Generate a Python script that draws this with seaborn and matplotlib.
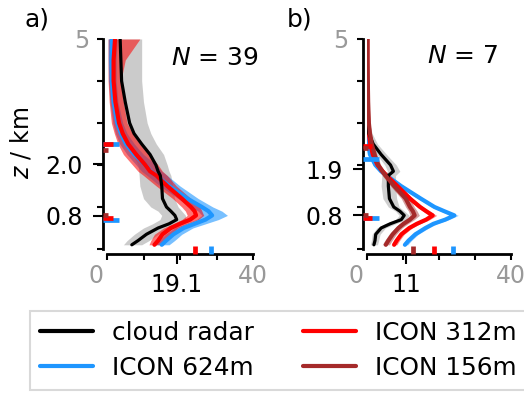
import numpy as np
import pandas as pd
import matplotlib
matplotlib.use("Agg")
import matplotlib.pyplot as plt
import matplotlib.transforms as mtrans
from matplotlib.lines import Line2D
import seaborn as sns

# ---------------- data ----------------
heights = [0.1, 0.2, 0.35, 0.5, 0.6, 0.7, 0.8, 0.9, 1.0, 1.2, 1.5, 1.75, 1.85,
           2.0, 2.25, 2.5, 2.75, 3.0, 3.5, 4.0, 4.5, 5.0]

# panel a (N = 39)
radar_a = [6.8, 8.5, 10.8, 14.0, 17.0, 19.1, 18.6, 17.5, 16.3, 15.2, 15.0, 14.6, 14.0,
           13.4, 11.8, 9.5, 7.4, 6.2, 5.0, 4.0, 3.8, 3.6]
radar_a_lo = [4.5, 5.5, 7.5, 10.0, 12.5, 14.5, 15.0, 14.0, 12.0, 10.0, 9.0, 8.8, 8.7,
              8.5, 7.0, 5.0, 3.5, 2.5, 1.5, 1.0, 0.8, 0.5]
radar_a_hi = [9.5, 11.5, 14.0, 17.5, 20.0, 21.5, 21.5, 20.5, 19.5, 18.5, 18.0, 17.5, 17.0,
              16.5, 15.5, 13.5, 12.0, 11.0, 10.0, 9.5, 9.5, 9.5]
icon312_a = [13.0, 14.0, 15.2, 17.5, 20.0, 22.8, 24.4, 24.0, 23.0, 20.5, 16.5, 13.5, 11.8,
             10.5, 8.0, 5.8, 4.3, 3.3, 2.3, 1.8, 1.8, 2.2]
icon312_a_lo = [11.5, 12.0, 13.0, 15.5, 18.0, 20.5, 22.0, 21.5, 20.5, 18.0, 13.5, 10.0, 8.5,
                7.0, 4.5, 3.0, 2.0, 1.2, 0.6, 0.3, 0.3, 0.3]
icon312_a_hi = [15.0, 16.0, 17.5, 19.5, 22.0, 25.0, 26.5, 26.0, 25.5, 23.0, 19.0, 16.5, 15.2,
                14.0, 11.5, 9.0, 7.0, 5.5, 4.5, 3.8, 5.0, 9.0]
icon624_a = [15.0, 16.2, 18.2, 21.0, 24.0, 27.0, 28.8, 27.8, 26.0, 22.0, 17.0, 13.5, 12.0,
             10.5, 7.5, 5.2, 3.8, 2.8, 1.8, 1.3, 1.2, 1.3]
icon624_a_lo = [13.0, 14.2, 16.0, 18.5, 21.5, 24.5, 26.0, 25.0, 23.0, 19.5, 14.5, 11.0, 9.5,
                8.0, 5.5, 3.5, 2.3, 1.6, 0.8, 0.4, 0.3, 0.3]
icon624_a_hi = [17.0, 18.5, 20.5, 23.5, 27.0, 30.5, 33.0, 31.5, 29.0, 25.0, 20.0, 16.5, 15.0,
                13.5, 10.0, 7.5, 5.5, 4.3, 3.0, 2.5, 2.5, 2.8]

# panel b (N = 7)
radar_b = [2.0, 2.3, 2.5, 4.0, 6.5, 9.6, 10.4, 9.2, 7.5, 6.3, 6.0, 6.0, 7.4,
           6.6, 4.0, 1.8, 0.6, 0.3, 0.2, 0.1, 0.1, 0.1]
radar_b_lo = [1.0, 1.3, 1.5, 2.8, 5.0, 8.0, 9.0, 8.0, 6.0, 4.5, 4.0, 4.2, 5.8,
              5.0, 2.8, 1.0, 0.2, 0.0, 0.0, 0.0, 0.0, 0.0]
radar_b_hi = [3.0, 3.3, 3.7, 5.2, 8.0, 11.0, 11.8, 10.5, 9.0, 8.3, 8.0, 8.0, 9.2,
              8.2, 5.5, 3.0, 1.5, 0.8, 0.5, 0.3, 0.3, 0.3]
icon156_b = [5.3, 6.0, 7.2, 8.8, 10.2, 12.0, 13.3, 12.8, 12.0, 10.8, 7.6, 5.2, 4.3,
             3.2, 2.2, 1.4, 0.9, 0.6, 0.4, 0.3, 0.2, 0.2]
icon156_b_lo = [4.3, 5.0, 6.2, 7.8, 9.0, 10.8, 12.0, 11.6, 10.8, 9.6, 6.6, 4.3, 3.5,
                2.5, 1.6, 0.9, 0.5, 0.3, 0.2, 0.1, 0.1, 0.1]
icon156_b_hi = [6.3, 7.0, 8.2, 9.8, 11.4, 13.2, 14.6, 14.0, 13.2, 12.0, 8.6, 6.1, 5.1,
                3.9, 2.8, 1.9, 1.3, 0.9, 0.6, 0.5, 0.4, 0.4]
icon312_b = [7.6, 8.3, 9.6, 11.8, 13.9, 16.5, 18.3, 16.5, 14.8, 12.0, 8.5, 5.5, 4.4,
             3.0, 1.7, 1.0, 0.6, 0.4, 0.3, 0.2, 0.2, 0.2]
icon312_b_lo = [6.8, 7.5, 8.8, 11.0, 13.0, 15.5, 17.2, 15.6, 14.0, 11.2, 7.7, 4.8, 3.7,
                2.4, 1.2, 0.6, 0.3, 0.2, 0.1, 0.1, 0.1, 0.1]
icon312_b_hi = [8.4, 9.1, 10.4, 12.6, 14.8, 17.5, 19.4, 17.4, 15.6, 12.8, 9.3, 6.2, 5.1,
                3.6, 2.2, 1.4, 0.9, 0.6, 0.5, 0.3, 0.3, 0.3]
icon624_b = [10.6, 11.6, 13.5, 16.3, 18.5, 21.8, 24.3, 21.5, 18.8, 15.0, 9.5, 5.5, 4.0,
             2.4, 0.9, 0.4, 0.2, 0.1, 0.1, 0.1, 0.1, 0.1]
icon624_b_lo = [9.8, 10.8, 12.7, 15.4, 17.6, 20.8, 23.2, 20.5, 17.9, 14.2, 8.7, 4.8, 3.3,
                1.8, 0.5, 0.2, 0.1, 0.0, 0.0, 0.0, 0.0, 0.0]
icon624_b_hi = [11.4, 12.4, 14.3, 17.2, 19.4, 22.8, 25.4, 22.5, 19.7, 15.8, 10.3, 6.2, 4.7,
                3.0, 1.3, 0.6, 0.4, 0.3, 0.2, 0.2, 0.2, 0.2]

# mean values (x: along bottom, z: along left)
radar_mean_x = {"a": 19.1, "b": 11}
radar_mean_z = {"a": [2.02, 0.79], "b": [1.90, 0.8]}
model_mean_x = {"a": {"ICON 312m": 24.2, "ICON 624m": 28.6},
                "b": {"ICON 156m": 12.7, "ICON 312m": 18.6, "ICON 624m": 23.8}}
model_mean_z = {"a": {"ICON 624m": [2.51, 0.68], "ICON 312m": [2.51, 0.73], "ICON 156m": [2.35, 0.81]},
                "b": {"ICON 624m": [2.14, 0.73], "ICON 312m": [2.45, 0.73], "ICON 156m": [2.40, 0.82]}}
n_cases = {"a": 39, "b": 7}

legend_labels = ["cloud radar", "ICON 624m", "ICON 312m", "ICON 156m"]
colors = {"cloud radar": "#000000", "ICON 624m": "#1E96FF",
          "ICON 312m": "#FF0000", "ICON 156m": "#A52A2A"}
band_colors = {"cloud radar": "#b0b0b0", "ICON 624m": "#1E96FF",
               "ICON 312m": "#FF0000", "ICON 156m": "#A52A2A"}

panels = {
    "a": {"cloud radar": (radar_a, radar_a_lo, radar_a_hi),
          "ICON 624m": (icon624_a, icon624_a_lo, icon624_a_hi),
          "ICON 312m": (icon312_a, icon312_a_lo, icon312_a_hi)},
    "b": {"cloud radar": (radar_b, radar_b_lo, radar_b_hi),
          "ICON 624m": (icon624_b, icon624_b_lo, icon624_b_hi),
          "ICON 312m": (icon312_b, icon312_b_lo, icon312_b_hi),
          "ICON 156m": (icon156_b, icon156_b_lo, icon156_b_hi)},
}

# ---------------- style ----------------
sns.set_style("ticks")
plt.rcParams["font.family"] = ["DejaVu Sans"]
plt.rcParams["mathtext.fontset"] = "dejavusans"
plt.rcParams["text.color"] = "black"
plt.rcParams["axes.edgecolor"] = "black"
plt.rcParams["axes.labelcolor"] = "black"
plt.rcParams["xtick.color"] = "black"
plt.rcParams["ytick.color"] = "black"

W, H = 524, 394
fig = plt.figure(figsize=(W / 100, H / 100), dpi=100)
ax_pos = {"a": [107 / W, (H - 249) / H, 146 / W, 210 / H],
          "b": [366.7 / W, (H - 249) / H, 144.3 / W, 210 / H]}

GRAY = "#999999"
FS = 17
band_alpha = {"a": {"cloud radar": 0.65, "ICON 624m": 0.6, "ICON 312m": 0.55},
              "b": {"cloud radar": 0.6, "ICON 624m": 0.45, "ICON 312m": 0.45, "ICON 156m": 0.45}}
line_w = {"cloud radar": 2.3, "ICON 624m": 3.0, "ICON 312m": 3.0, "ICON 156m": 3.0}
draw_order = ["ICON 624m", "ICON 312m", "cloud radar", "ICON 156m"]
left_len = {"ICON 624m": 3.3, "ICON 312m": 1.6, "ICON 156m": 0.3}

for key in ["a", "b"]:
    ax = fig.add_axes(ax_pos[key])
    series = panels[key]
    # bands
    for name in ["cloud radar", "ICON 624m", "ICON 312m", "ICON 156m"]:
        if name not in series:
            continue
        _, lo, hi = series[name]
        ax.fill_betweenx(heights, lo, hi, color=band_colors[name],
                         alpha=band_alpha[key][name], lw=0, zorder=1)
    # lines
    for name in draw_order:
        if name not in series:
            continue
        vals = series[name][0]
        df = pd.DataFrame({"value": vals, "z": heights})
        sns.lineplot(data=df, x="value", y="z", orient="y", estimator=None,
                     color=colors[name], lw=line_w[name], ax=ax, zorder=3)
    # mean markers along bottom
    for name, mx in model_mean_x[key].items():
        ax.plot([mx, mx], [-0.12, 0.07], color=colors[name], lw=3.4,
                solid_capstyle="butt", clip_on=False, zorder=4)
    # mean markers along left
    for name in ["ICON 624m", "ICON 312m", "ICON 156m"]:
        for mz in model_mean_z[key][name]:
            ax.plot([-1.1, left_len[name]], [mz, mz], color=colors[name], lw=3.4,
                    solid_capstyle="butt", clip_on=False, zorder=4)

    ax.set_xlim(0, 40)
    ax.set_ylim(0, 5)
    ax.set_xlabel("")
    ax.set_ylabel("")
    sns.despine(ax=ax)
    ax.spines["left"].set_position(("outward", 2.9))
    ax.spines["bottom"].set_position(("outward", 3.6))
    for s in ["left", "bottom"]:
        ax.spines[s].set_linewidth(2.0)
        ax.spines[s].set_color("black")

    ax.set_xticks([0, 10, 20, 30, 40])
    ax.set_xticklabels(["0", "", "", "", "40"])
    ax.set_xticks([radar_mean_x[key]], minor=True)
    ax.set_xticklabels([f"{radar_mean_x[key]:g}"], minor=True)
    ax.set_yticks([0, 1, 2, 3, 4, 5])
    ax.set_yticklabels(["", "", "", "", "", "5"])
    ax.set_yticks(radar_mean_z[key], minor=True)
    ax.set_yticklabels([f"{v:.1f}" for v in radar_mean_z[key]], minor=True)

    ax.tick_params(axis="both", which="major", length=4, width=1.5,
                   labelsize=FS, labelcolor=GRAY, color="black")
    ax.tick_params(axis="x", which="major", pad=3)
    ax.tick_params(axis="y", which="major", pad=6)
    ax.tick_params(axis="both", which="minor", length=7, width=1.5,
                   labelsize=FS, labelcolor="black", color="black")
    ax.tick_params(axis="x", which="minor", pad=7)
    ax.tick_params(axis="y", which="minor", pad=7.5)
    # shift "0" label leftwards
    lab0 = ax.get_xticklabels()[0]
    lab0.set_transform(lab0.get_transform() +
                       mtrans.ScaledTranslation(-11 / 100, 0, fig.dpi_scale_trans))

    if key == "a":
        ax.text(1.035, 0.965, rf"$N$ = {n_cases[key]}", transform=ax.transAxes,
                ha="right", va="top", fontsize=18, color="black")
    else:
        ax.text(0.91, 0.975, rf"$N$ = {n_cases[key]}", transform=ax.transAxes,
                ha="right", va="top", fontsize=18, color="black")

fig.text(25 / W, 1 - 8 / H, "a)", fontsize=18, ha="left", va="top", color="black")
fig.text(287 / W, 1 - 8 / H, "b)", fontsize=18, ha="left", va="top", color="black")
fig.text(21 / W, 1 - 143 / H, r"$z$ / km", fontsize=FS, rotation=90,
         ha="center", va="center", color="black")

handles = [Line2D([], [], color=colors[n], lw=3) for n in legend_labels]
leg = fig.legend(handles, legend_labels, ncol=2, loc="upper left",
                 bbox_to_anchor=(30 / W, 1 - 311 / H), borderaxespad=0,
                 fontsize=17.8, frameon=True, fancybox=False,
                 handlelength=2.15, handletextpad=0.75, columnspacing=2.0,
                 labelspacing=0.45, borderpad=0.4)
leg.get_frame().set_edgecolor("#d0d0d0")
leg.get_frame().set_linewidth(1.5)
for t in leg.get_texts():
    t.set_color("black")

fig.savefig("out.png", dpi=100)
